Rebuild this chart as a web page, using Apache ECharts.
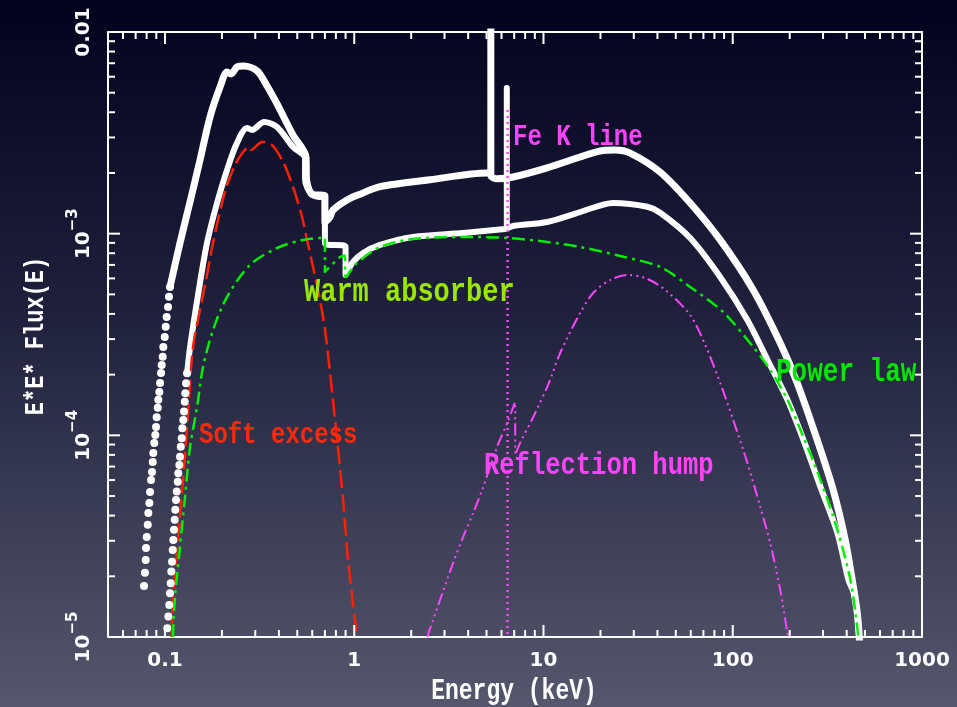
<!DOCTYPE html>
<html><head><meta charset="utf-8">
<script src="https://cdn.jsdelivr.net/npm/echarts@6/dist/echarts.min.js"></script>
<style>html,body{margin:0;padding:0;background:#000;}#c{width:957px;height:707px;}</style>
</head><body><div id="c"></div>
<script>
// ---- axis ranges & ticks ----
const X_MIN = 0.05, X_MAX = 1000, Y_MIN = 1e-5, Y_MAX = 1e-2;
const xMajorTicks = [0.1, 1, 10, 100, 1000];
const xTickLabels = ['0.1', '1', '10', '100', '1000'];
const xMinorTicks = [0.06,0.07,0.08,0.09, 0.2,0.3,0.4,0.5,0.6,0.7,0.8,0.9, 2,3,4,5,6,7,8,9, 20,30,40,50,60,70,80,90, 200,300,400,500,600,700,800,900];
const yMajorTicks = [1e-5, 1e-4, 1e-3, 1e-2];
const yTickLabels = ['10^−5', '10^−4', '10^−3', '0.01'];
const yMinorTicks = [2e-5,3e-5,4e-5,5e-5,6e-5,7e-5,8e-5,9e-5, 2e-4,3e-4,4e-4,5e-4,6e-4,7e-4,8e-4,9e-4, 2e-3,3e-3,4e-3,5e-3,6e-3,7e-3,8e-3,9e-3];

// ---- data: [Energy keV, E*E*Flux] ----
const totalUpperDots = [[0.0775,1.79e-5],[0.0784,2.08e-5],[0.0791,2.41e-5],[0.0794,2.76e-5],[0.0801,3.13e-5],[0.0811,3.60e-5],[0.0817,4.12e-5],[0.0827,4.62e-5],[0.0834,5.24e-5],[0.0844,6.01e-5],[0.0854,6.58e-5],[0.0862,7.38e-5],[0.0868,8.18e-5],[0.0878,9.17e-5],[0.0889,1.005e-4],[0.0897,1.10e-4],[0.0904,1.23e-4],[0.0916,1.37e-4],[0.0922,1.50e-4],[0.0934,1.64e-4],[0.0942,1.82e-4],[0.0953,2.04e-4],[0.0961,2.23e-4],[0.0973,2.45e-4],[0.0980,2.74e-4],[0.0997,3.07e-4],[0.1009,3.45e-4],[0.1021,3.86e-4],[0.1038,4.33e-4],[0.1050,4.86e-4],[0.1063,5.44e-4]];
const totalUpper = [[0.1063,5.44e-4],[0.1201,9.0e-4],[0.1357,1.44e-3],[0.1532,2.32e-3],[0.1730,3.79e-3],[0.1954,5.33e-3],[0.2128,6.34e-3],[0.2234,6.19e-3],[0.2403,6.71e-3],[0.2617,6.78e-3],[0.3067,6.41e-3],[0.3463,5.40e-3],[0.3911,4.40e-3],[0.4753,3.08e-3],[0.556,2.40e-3],[0.56,1.85e-3],[0.5987,1.57e-3],[0.70,1.54e-3],[0.70,1.14e-3],[0.7453,1.21e-3],[0.7730,1.31e-3],[0.9165,1.47e-3],[1.074,1.57e-3],[1.370,1.71e-3],[2.517,1.85e-3],[5.037,2.0e-3],[5.27,2.0e-3],[5.27,2.0e-2],[5.27,1.95e-3],[5.688,1.87e-3],[6.91,1.91e-3],[10.46,2.12e-3],[15.62,2.40e-3],[19.93,2.57e-3],[23.91,2.60e-3],[28.71,2.51e-3],[41.35,2.02e-3],[59.57,1.42e-3],[85.83,9.31e-4],[128.3,5.26e-4],[178.2,2.87e-4],[219.1,1.82e-4],[279.5,9.49e-5],[339.6,5.36e-5],[393.0,3.03e-5],[428.0,1.92e-5],[454.8,1.32e-5],[466.0,1.0e-5],[477.4,7e-6]];
const totalLowerDots = [[0.1029,1.105e-5],[0.1042,1.262e-5],[0.1054,1.442e-5],[0.1063,1.649e-5],[0.1072,1.848e-5],[0.1080,2.110e-5],[0.1090,2.364e-5],[0.1099,2.703e-5],[0.1107,3.03e-5],[0.1116,3.40e-5],[0.1126,3.81e-5],[0.1134,4.27e-5],[0.1144,4.78e-5],[0.1154,5.26e-5],[0.1168,5.89e-5],[0.1176,6.49e-5],[0.1191,7.13e-5],[0.1201,7.84e-5],[0.1212,8.79e-5],[0.1226,9.67e-5],[0.1235,1.084e-4],[0.1250,1.192e-4],[0.1261,1.311e-4],[0.1272,1.469e-4],[0.1281,1.617e-4],[0.1292,1.813e-4],[0.1308,2.03e-4]];
const totalLower = [[0.1308,2.03e-4],[0.1357,2.74e-4],[0.1495,4.97e-4],[0.1668,9.0e-4],[0.1884,1.42e-3],[0.2128,2.07e-3],[0.2403,2.82e-3],[0.2715,3.34e-3],[0.2885,3.27e-3],[0.3339,3.58e-3],[0.3911,3.38e-3],[0.4753,2.69e-3],[0.5498,2.37e-3],[0.5498,1.85e-3],[0.5987,1.56e-3],[0.6845,1.52e-3],[0.70,1.52e-3],[0.70,9.0e-4],[0.90,8.59e-4],[0.90,6.24e-4],[0.986,7.24e-4],[1.114,8.02e-4],[1.370,8.79e-4],[2.047,9.63e-4],[3.760,1.008e-3],[6.27,1.055e-3],[6.40,1.06e-3],[6.40,5.27e-3],[6.40,1.06e-3],[6.91,1.092e-3],[10.46,1.143e-3],[15.62,1.28e-3],[23.34,1.42e-3],[35.32,1.36e-3],[41.35,1.27e-3],[59.57,9.52e-4],[85.83,6.10e-4],[119.5,3.73e-4],[152.5,2.37e-4],[194.5,1.50e-4],[236.3,9.49e-5],[290.6,5.55e-5],[357.3,3.28e-5],[408.6,1.92e-5],[434.2,1.67e-5],[454.8,1.32e-5],[466.0,1.0e-5],[477.4,7e-6]];
const softExcess = [[0.1085,1.0e-5],[0.1103,1.58e-5],[0.1172,3.03e-5],[0.1246,6.01e-5],[0.1324,1.29e-4],[0.1407,2.74e-4],[0.1570,4.69e-4],[0.1648,5.89e-4],[0.1773,8.49e-4],[0.1907,1.17e-3],[0.2102,1.68e-3],[0.2346,2.19e-3],[0.2586,2.54e-3],[0.2781,2.69e-3],[0.2850,2.60e-3],[0.3259,2.85e-3],[0.3680,2.75e-3],[0.4207,2.27e-3],[0.4753,1.70e-3],[0.5301,1.21e-3],[0.5634,9.31e-4],[0.6060,6.84e-4],[0.6440,5.26e-4],[0.7013,3.33e-4],[0.7920,1.19e-4],[0.8730,4.78e-5],[0.9277,2.41e-5],[1.035,1.0e-5]];
const powerLaw = [[0.1103,1.0e-5],[0.1130,1.58e-5],[0.1201,2.80e-5],[0.1277,4.95e-5],[0.1357,8.76e-5],[0.1477,1.38e-4],[0.1589,2.18e-4],[0.1795,3.33e-4],[0.2128,4.86e-4],[0.2815,7.0e-4],[0.3911,8.49e-4],[0.5367,9.31e-4],[0.6845,9.52e-4],[0.70,9.52e-4],[0.70,6.46e-4],[0.842,7.66e-4],[0.89,7.8e-4],[0.90,6.10e-4],[1.035,7.16e-4],[1.370,8.59e-4],[2.047,9.41e-4],[3.760,9.63e-4],[6.42,9.52e-4],[10.46,9.10e-4],[15.62,8.59e-4],[25.41,7.75e-4],[41.35,6.84e-4],[59.57,5.44e-4],[89.0,4.09e-4],[128.3,2.74e-4],[157.7,2.11e-4],[194.5,1.50e-4],[236.3,9.82e-5],[290.6,6.01e-5],[357.3,3.40e-5],[418.6,1.92e-5],[454.8,1.12e-5],[460.4,1.0e-5],[466.0,8.6e-6]];
const reflection = [[2.427,1.0e-5],[2.843,1.53e-5],[3.330,2.33e-5],[3.760,3.13e-5],[4.249,4.12e-5],[4.739,5.36e-5],[5.688,8.76e-5],[6.42,1.15e-4],[7.08,1.46e-4],[7.10,8.0e-5],[7.53,9.17e-5],[8.82,1.23e-4],[10.58,1.78e-4],[12.25,2.56e-4],[15.62,4.04e-4],[18.30,5.08e-4],[22.51,5.89e-4],[27.68,6.24e-4],[34.47,6.03e-4],[43.95,5.26e-4],[59.57,3.95e-4],[71.5,2.81e-4],[85.83,1.82e-4],[100.6,1.19e-4],[119.5,7.30e-5],[139.7,4.42e-5],[157.7,2.93e-5],[178.2,1.71e-5],[194.5,1.05e-5],[196.9,1.0e-5]];
const feLine = [[6.46,4.1e-3],[6.46,1.0e-5]];

const MONO = '"Courier New", "Nimbus Mono PS", "Nimbus Mono L", "FreeMono", "Liberation Mono", monospace';
const SANS = '"DejaVu Sans", sans-serif';

function findLabel(v, ticks, labels) {
  for (let i = 0; i < ticks.length; i++) if (Math.abs(Math.log10(v) - Math.log10(ticks[i])) < 1e-6) return labels[i];
  return '';
}

const chart = echarts.init(document.getElementById('c'), null, {renderer: 'canvas'});

function lineSeries(data, color, width, type, cap, smooth) {
  return {type: 'line', data, showSymbol: false, symbol: 'none', clip: true, z: 3,
    smooth: smooth === undefined ? 0.3 : smooth,
    lineStyle: {color, width, type, cap: cap || 'butt', join: 'round'}};
}
function dotSeries(data) {
  return {type: 'scatter', data, symbol: 'circle', symbolSize: 8, z: 3, itemStyle: {color: '#ffffff', opacity: 1}};
}
function tickSeries(isX, majors, minors) {
  const items = majors.map(v => [isX ? v : X_MIN, isX ? Y_MIN : v, 12])
    .concat(minors.map(v => [isX ? v : X_MIN, isX ? Y_MIN : v, 7]));
  return {type: 'custom', data: items, encode: {x: 0, y: 1}, silent: true, z: 5,
    renderItem: (params, api) => {
      const len = api.value(2);
      const st = {stroke: '#ffffff', lineWidth: 2};
      if (isX) {
        const v = api.value(0);
        const b = api.coord([v, Y_MIN]), t = api.coord([v, Y_MAX]);
        return {type: 'group', children: [
          {type: 'line', shape: {x1: b[0], y1: b[1], x2: b[0], y2: b[1] - len}, style: st},
          {type: 'line', shape: {x1: t[0], y1: t[1], x2: t[0], y2: t[1] + len}, style: st}]};
      } else {
        const v = api.value(1);
        const l = api.coord([X_MIN, v]), r = api.coord([X_MAX, v]);
        return {type: 'group', children: [
          {type: 'line', shape: {x1: l[0], y1: l[1], x2: l[0] + len, y2: l[1]}, style: st},
          {type: 'line', shape: {x1: r[0], y1: r[1], x2: r[0] - len, y2: r[1]}, style: st}]};
      }
    }};
}

const axisLine = {show: true, lineStyle: {color: '#ffffff', width: 2}};
const baseAxis = {type: 'log', logBase: 10, axisLine, axisTick: {show: false}, splitLine: {show: false}, minorTick: {show: false}, minorSplitLine: {show: false}};

function annot(text, x, y, color, size) {
  return {type: 'text', x, y, scaleY: 1.25, z: 10,
    style: {text, fill: color, font: 'bold ' + size + 'px ' + MONO, verticalAlign: 'bottom', align: 'left'}};
}

chart.setOption({
  animation: false,
  backgroundColor: {type: 'linear', x: 0, y: 0, x2: 0, y2: 1,
    colorStops: [{offset: 0, color: '#02021e'}, {offset: 0.45, color: '#20213d'}, {offset: 1, color: '#56576d'}]},
  grid: {left: 108, right: 35, top: 32, bottom: 70, containLabel: false},
  xAxis: [
    Object.assign({}, baseAxis, {min: X_MIN, max: X_MAX, position: 'bottom',
      axisLabel: {color: '#ffffff', fontFamily: SANS, fontWeight: 'bold', fontSize: 20, margin: 14,
        formatter: v => findLabel(v, xMajorTicks, xTickLabels)}}),
    Object.assign({}, baseAxis, {min: X_MIN, max: X_MAX, position: 'top', axisLabel: {show: false}})
  ],
  yAxis: [
    Object.assign({}, baseAxis, {min: Y_MIN, max: Y_MAX, position: 'left',
      axisLabel: {color: '#ffffff', rotate: 90, margin: 14,
        formatter: v => {
          const s = findLabel(v, yMajorTicks, yTickLabels);
          if (!s) return '';
          const p = s.split('^');
          return p.length > 1 ? '{b|' + p[0] + '}{s|' + p[1] + '}' : '{b|' + s + '}';
        },
        rich: {
          b: {color: '#ffffff', fontFamily: SANS, fontWeight: 'bold', fontSize: 20, lineHeight: 28, verticalAlign: 'bottom'},
          s: {color: '#ffffff', fontFamily: SANS, fontWeight: 'bold', fontSize: 15, lineHeight: 28, verticalAlign: 'top'}
        }}}),
    Object.assign({}, baseAxis, {min: Y_MIN, max: Y_MAX, position: 'right', axisLabel: {show: false}})
  ],
  graphic: [
    annot('Fe K line', 513, 152, '#ff44ff', 24),
    annot('Warm absorber', 304, 309, '#99e600', 27),
    annot('Soft excess', 199, 450, '#ff2a0a', 24),
    annot('Reflection hump', 484, 482, '#ff44ff', 25.5),
    annot('Power law', 776, 389, '#00e600', 26),
    {type: 'text', x: 514, y: 706, scaleY: 1.25, z: 10,
      style: {text: 'Energy (keV)', fill: '#ffffff', font: 'bold 23px ' + MONO, align: 'center', verticalAlign: 'bottom'}},
    {type: 'text', x: 50, y: 336, rotation: Math.PI / 2, scaleY: 1.25, z: 10,
      style: {text: 'E*E* Flux(E)', fill: '#ffffff', font: 'bold 22px ' + MONO, align: 'center', verticalAlign: 'bottom'}}
  ],
  series: [
    dotSeries(totalUpperDots),
    lineSeries(totalUpper, '#ffffff', 7, 'solid', 'round'),
    dotSeries(totalLowerDots),
    lineSeries(totalLower, '#ffffff', 6, 'solid', 'round'),
    lineSeries(softExcess, '#ff2200', 2.5, [18, 6]),
    lineSeries(powerLaw, '#00ee00', 2.5, [13, 5, 3, 5]),
    lineSeries(reflection, '#ff44ff', 2, [12, 4, 2, 4, 2, 4, 2, 4]),
    lineSeries(feLine, '#ff44ff', 2.5, [2, 4], 'butt', false),
    Object.assign(tickSeries(true, xMajorTicks, xMinorTicks), {xAxisIndex: 0, yAxisIndex: 0}),
    Object.assign(tickSeries(false, yMajorTicks, yMinorTicks), {xAxisIndex: 0, yAxisIndex: 0})
  ]
});
</script></body></html>
